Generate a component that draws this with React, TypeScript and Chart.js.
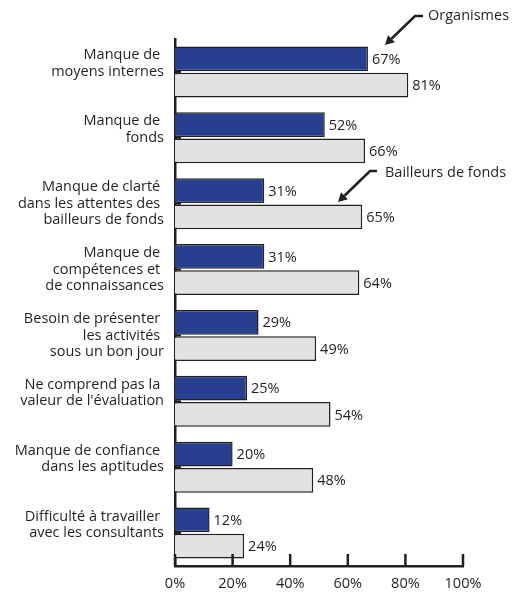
import React, { useEffect, useRef } from "react";
import { Chart, registerables } from "chart.js";

Chart.register(...registerables);

const categories: string[][] = [
  ["Manque de", "moyens internes"],
  ["Manque de", "fonds"],
  ["Manque de clarté", "dans les attentes des", "bailleurs de fonds"],
  ["Manque de", "compétences et", "de connaissances"],
  ["Besoin de présenter", "les activités", "sous un bon jour"],
  ["Ne comprend pas la", "valeur de l'évaluation"],
  ["Manque de confiance", "dans les aptitudes"],
  ["Difficulté à travailler", "avec les consultants"],
];
const organismes = [67, 52, 31, 31, 29, 25, 20, 12];
const bailleurs = [81, 66, 65, 64, 49, 54, 48, 24];
const xTickValues = [0, 20, 40, 60, 80, 100];
const seriesNames = ["Organismes", "Bailleurs de fonds"];

const FONT = "'Open Sans', Lato, sans-serif";
const FS = 14.5;
const INK = "#231f20";

const valueLabels = {
  id: "valueLabels",
  afterDatasetsDraw(chart: any) {
    const ctx = chart.ctx;
    ctx.save();
    ctx.font = `${FS}px ${FONT}`;
    ctx.fillStyle = INK;
    ctx.textBaseline = "middle";
    ctx.textAlign = "left";
    chart.data.datasets.forEach((ds: any, i: number) => {
      const meta = chart.getDatasetMeta(i);
      meta.data.forEach((el: any, j: number) => {
        ctx.fillText(`${ds.data[j]}%`, el.x + 4, el.y + 1);
      });
    });
    ctx.restore();
  },
};

const axisTicks = {
  id: "axisTicks",
  afterDraw(chart: any) {
    const ctx = chart.ctx;
    const xs = chart.scales.x;
    const ys = chart.scales.y;
    const area = chart.chartArea;
    ctx.save();
    ctx.strokeStyle = INK;
    ctx.lineWidth = 2.5;
    xTickValues.forEach((v) => {
      const px = xs.getPixelForValue(v);
      ctx.beginPath();
      ctx.moveTo(px, area.bottom);
      ctx.lineTo(px, area.bottom - 12);
      ctx.stroke();
    });
    ctx.lineWidth = 2;
    categories.forEach((_, i) => {
      const py = ys.getPixelForValue(i);
      ctx.beginPath();
      ctx.moveTo(area.left, py);
      ctx.lineTo(area.left + 6, py);
      ctx.stroke();
    });
    ctx.restore();
  },
};

function arrow(ctx: any, pts: number[][]) {
  ctx.beginPath();
  ctx.moveTo(pts[0][0], pts[0][1]);
  for (let k = 1; k < pts.length - 1; k++) ctx.lineTo(pts[k][0], pts[k][1]);
  const [ax, ay] = pts[pts.length - 2];
  const [tx, ty] = pts[pts.length - 1];
  const ang = Math.atan2(ty - ay, tx - ax);
  const L = 9;
  const bx = tx - Math.cos(ang) * L;
  const by = ty - Math.sin(ang) * L;
  ctx.lineTo(bx, by);
  ctx.stroke();
  ctx.beginPath();
  ctx.moveTo(tx, ty);
  ctx.lineTo(bx + Math.cos(ang + Math.PI / 2) * 5, by + Math.sin(ang + Math.PI / 2) * 5);
  ctx.lineTo(bx + Math.cos(ang - Math.PI / 2) * 5, by + Math.sin(ang - Math.PI / 2) * 5);
  ctx.closePath();
  ctx.fill();
}

const annotations = {
  id: "annotations",
  afterDraw(chart: any) {
    const ctx = chart.ctx;
    ctx.save();
    ctx.strokeStyle = INK;
    ctx.fillStyle = INK;
    ctx.lineWidth = 2.5;
    ctx.lineJoin = "miter";
    arrow(ctx, [
      [423, 16],
      [415, 16],
      [385, 45],
    ]);
    arrow(ctx, [
      [377, 171],
      [370, 171],
      [338, 202],
    ]);
    ctx.font = `${FS}px ${FONT}`;
    ctx.textBaseline = "middle";
    ctx.textAlign = "left";
    ctx.fillText(seriesNames[0], 428, 16);
    ctx.fillText(seriesNames[1], 385, 173);
    ctx.restore();
  },
};

export default function App() {
  const ref = useRef<HTMLCanvasElement>(null);
  useEffect(() => {
    if (!ref.current) return;
    const chart = new Chart(ref.current, {
      type: "bar",
      data: {
        labels: categories,
        datasets: [
          {
            label: seriesNames[0],
            data: organismes,
            backgroundColor: "#263f8e",
            borderColor: INK,
            borderWidth: 1.5,
            categoryPercentage: 0.8,
            barPercentage: 0.94,
          },
          {
            label: seriesNames[1],
            data: bailleurs,
            backgroundColor: "#e1e2e3",
            borderColor: INK,
            borderWidth: 1.5,
            categoryPercentage: 0.8,
            barPercentage: 0.94,
          },
        ],
      },
      options: {
        indexAxis: "y",
        responsive: false,
        animation: false,
        layout: { padding: { top: 39, right: 58, left: 0, bottom: 0 } },
        plugins: {
          legend: { display: false },
          tooltip: { enabled: false },
          title: { display: false },
        },
        scales: {
          x: {
            min: 0,
            max: 100,
            afterBuildTicks: (scale: any) => {
              scale.ticks = xTickValues.map((v) => ({ value: v }));
            },
            afterFit: (scale: any) => {
              scale.height = 27;
            },
            grid: { display: false, drawTicks: false },
            border: { display: true, color: INK, width: 2.5 },
            ticks: {
              padding: 9,
              color: INK,
              font: { family: FONT, size: FS },
              callback: (v: any) => `${v}%`,
            },
          },
          y: {
            afterFit: (scale: any) => {
              scale.width = 175;
              scale.paddingTop = 0;
              scale.paddingBottom = 0;
            },
            grid: { display: false, drawTicks: false },
            border: { display: true, color: INK, width: 2.5 },
            ticks: {
              padding: 11,
              color: INK,
              font: { family: FONT, size: FS, lineHeight: 1.15 },
              callback: (_v: any, i: number) => {
                const lines = categories[i];
                const out = lines.map((l, k) => (k < lines.length - 1 ? l + " " : l));
                if (out.length === 2) out.push("");
                return out;
              },
            },
          },
        },
      },
      plugins: [valueLabels, axisTicks, annotations],
    });
    return () => chart.destroy();
  }, []);
  return (
    <div style={{ position: "fixed", left: 0, top: 0, width: 521, height: 593, background: "#fff" }}>
      <canvas ref={ref} width={521} height={593} />
    </div>
  );
}
